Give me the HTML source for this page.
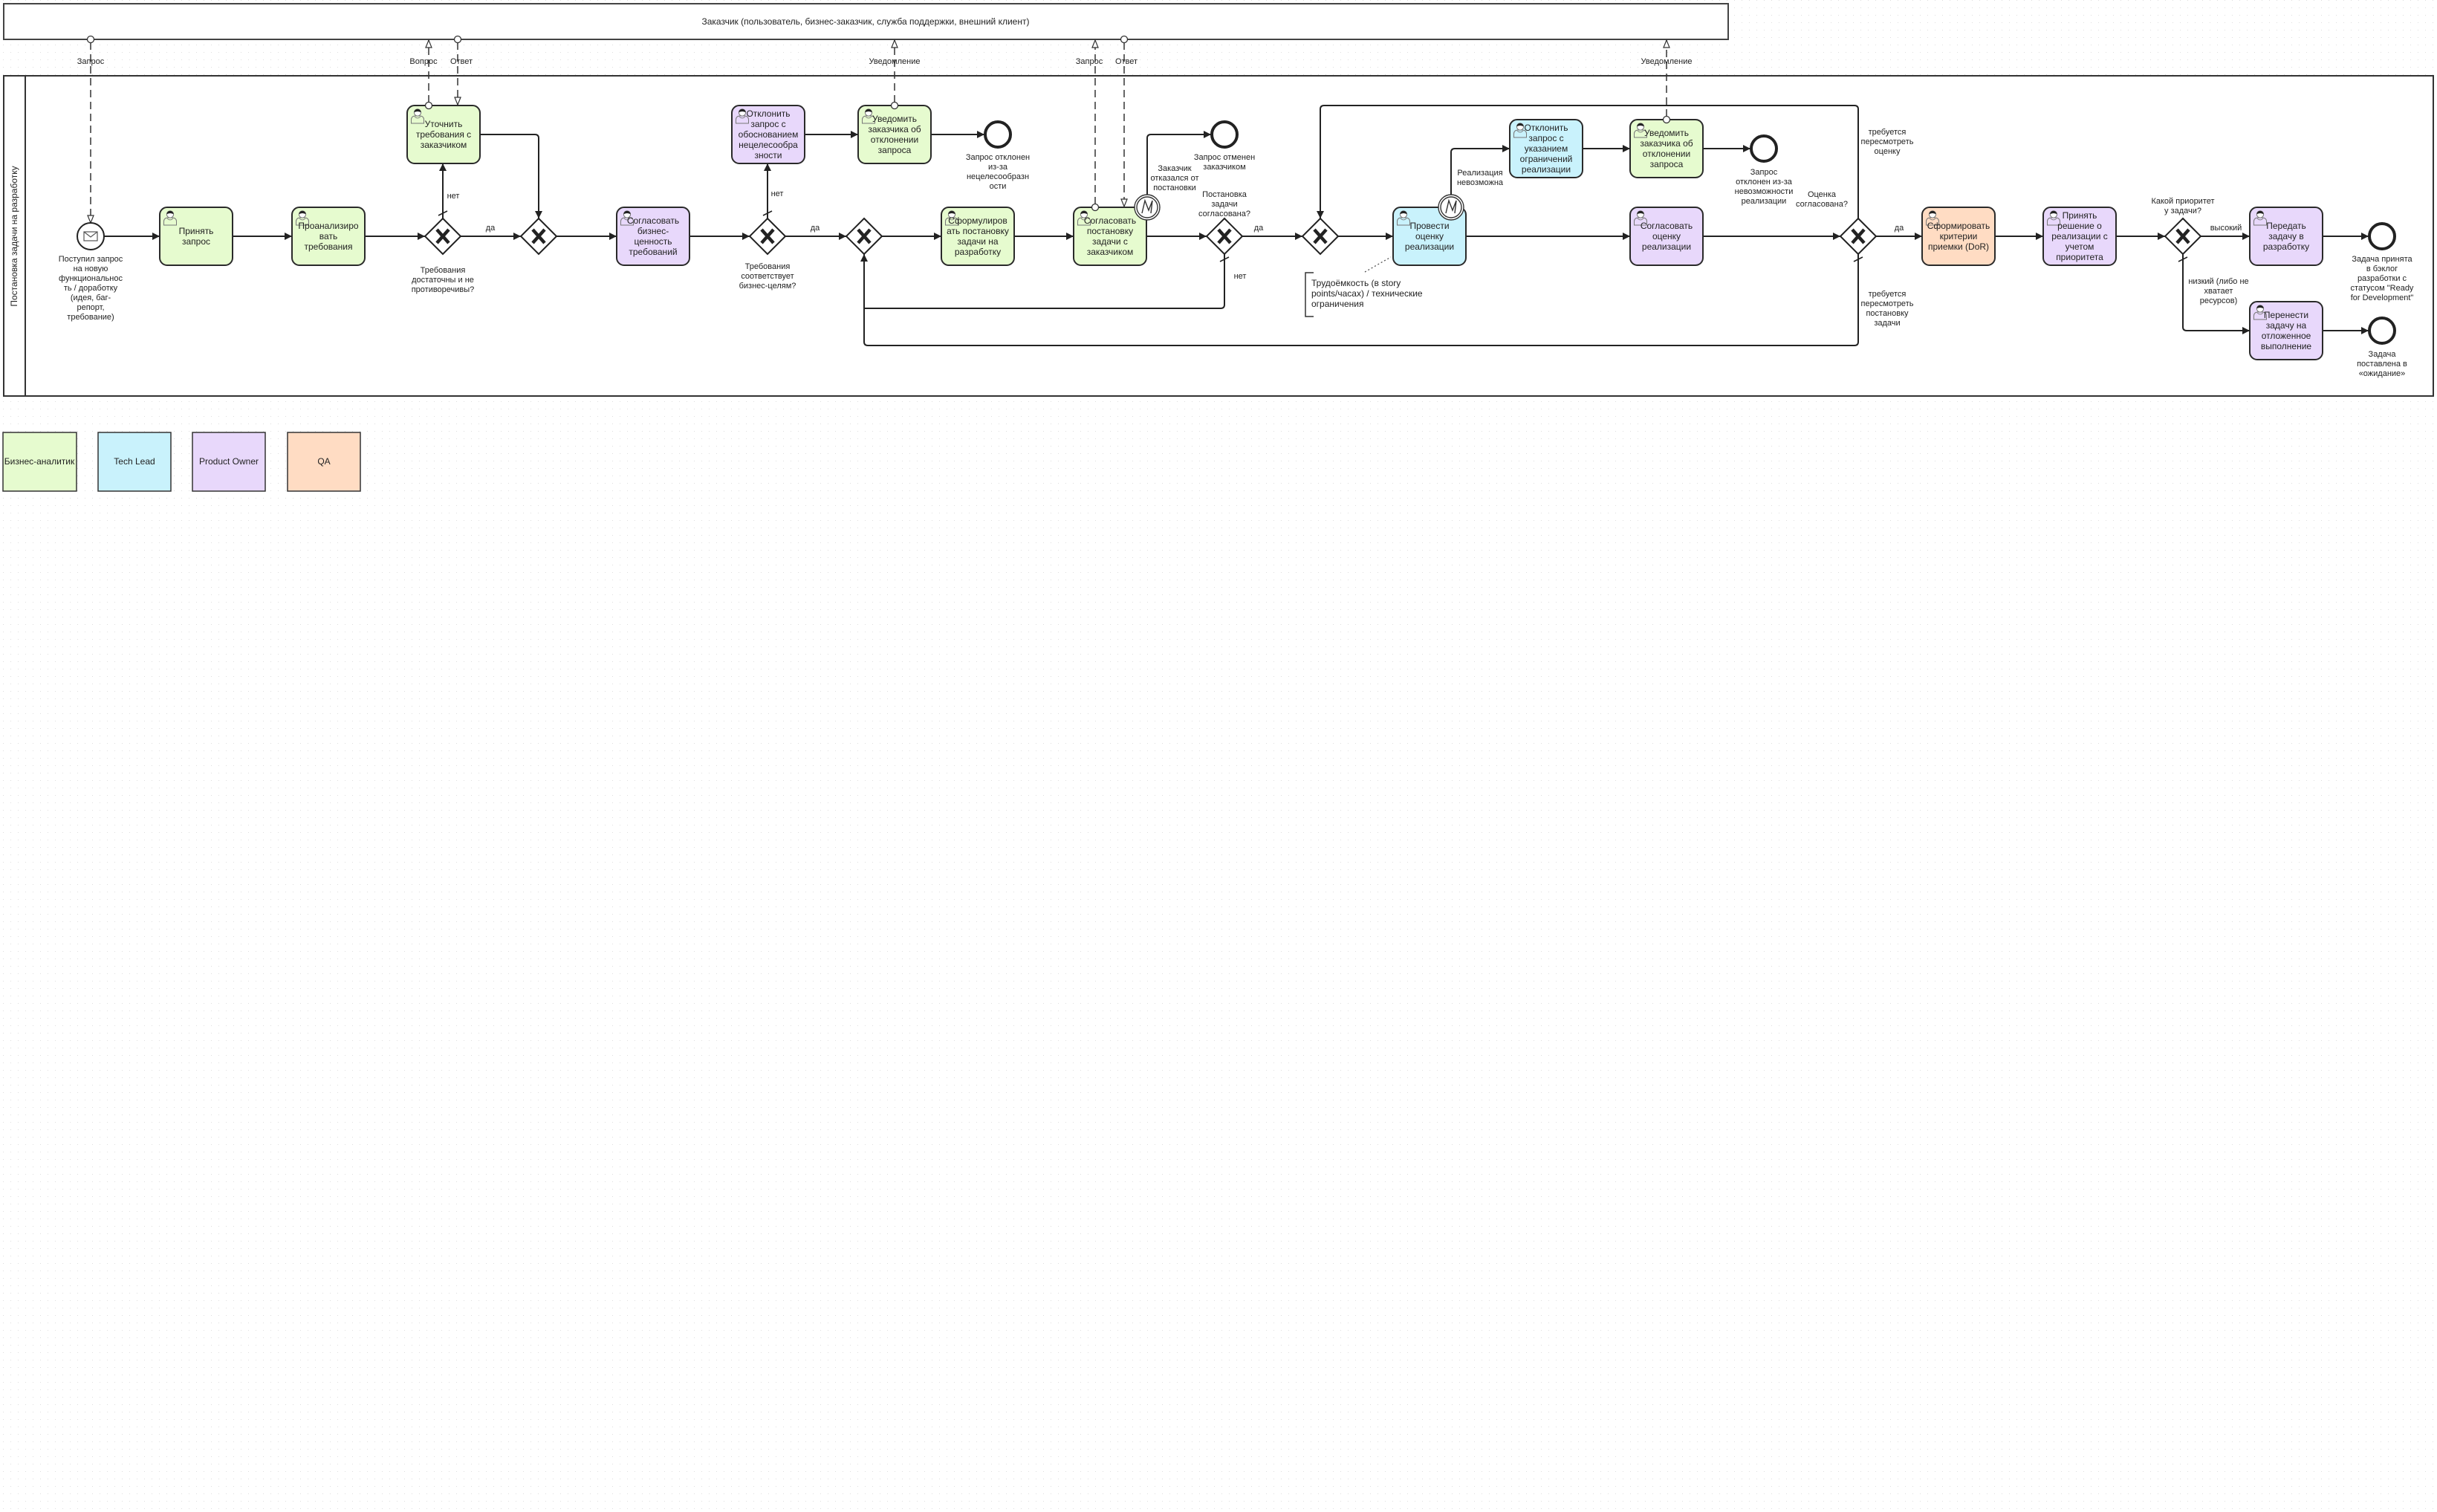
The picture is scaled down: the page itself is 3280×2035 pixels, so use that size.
<!DOCTYPE html>
<html>
<head>
<meta charset="utf-8">
<style>
html,body{margin:0;padding:0;background:#fff;}
svg{display:block;}
text{font-family:"Liberation Sans","DejaVu Sans",sans-serif;fill:#222;}
.t{font-size:12px;text-anchor:middle;}
.l{font-size:11px;text-anchor:middle;}
.f{fill:none;stroke:#222;stroke-width:2;}
.m{fill:none;stroke:#333;stroke-width:1.5;stroke-dasharray:10,6;}
.task{stroke:#2a2a2a;stroke-width:2;}
.g{fill:#fff;stroke:#222;stroke-width:2;}
.x{stroke:#222;stroke-width:4.5;stroke-linecap:butt;}
</style>
</head>
<body>
<svg xmlns="http://www.w3.org/2000/svg" width="3280" height="2035" viewBox="0 0 3280 2035">
<defs>
<pattern id="grid" x="4" y="0" width="10" height="10" patternUnits="userSpaceOnUse">
<rect x="0" y="0" width="1" height="1" fill="#dedede"/>
</pattern>
<marker id="a" markerWidth="12" markerHeight="12" refX="11" refY="6" orient="auto" markerUnits="userSpaceOnUse">
<path d="M1,1 L11,6 L1,11 Z" fill="#222"/>
</marker>
<marker id="o" markerWidth="12" markerHeight="12" refX="11" refY="6" orient="auto" markerUnits="userSpaceOnUse">
<path d="M1,2 L11,6 L1,10 Z" fill="#fff" stroke="#333" stroke-width="1.2"/>
</marker>
<symbol id="usr" viewBox="0 0 20 22" width="20" height="22">
<path d="M1.5,21 V16 Q1.5,11.5 6.5,11 H13.5 Q18.5,11.5 18.5,16 V21 Z" fill="none" stroke="#777" stroke-width="1"/>
<path d="M6,12 Q10,16 14,12" fill="none" stroke="#777" stroke-width="0.8"/>
<circle cx="10" cy="6.5" r="4.6" fill="#fff" stroke="#777" stroke-width="1"/>
<path d="M5.4,6.3 A4.6,4.6 0 0 1 14.6,6.3 Q10,3.8 5.4,6.3 Z" fill="#222"/>
</symbol>
</defs>

<rect x="0" y="0" width="3280" height="2035" fill="#fff"/>
<rect x="0" y="0" width="3280" height="2035" fill="url(#grid)"/>

<!-- top pool -->
<rect x="5" y="5" width="2321" height="48" fill="#fff" stroke="#444" stroke-width="2"/>
<text x="1165" y="33" class="t">Заказчик (пользователь, бизнес-заказчик, служба поддержки, внешний клиент)</text>

<!-- main pool -->
<rect x="5" y="102" width="3270" height="431" fill="#fff" stroke="#333" stroke-width="2"/>
<line x1="34" y1="102" x2="34" y2="533" stroke="#333" stroke-width="2"/>
<text class="t" transform="translate(23,318) rotate(-90)">Постановка задачи на разработку</text>

<!-- sequence flows -->
<g class="f">
<path d="M140,318 H215" marker-end="url(#a)"/>
<path d="M313,318 H393" marker-end="url(#a)"/>
<path d="M491,318 H572" marker-end="url(#a)"/>
<path d="M596,294 V220" marker-end="url(#a)"/>
<path d="M620,318 H701" marker-end="url(#a)"/>
<path d="M646,181 H720 Q725,181 725,186 V294" marker-end="url(#a)"/>
<path d="M749,318 H830" marker-end="url(#a)"/>
<path d="M928,318 H1009" marker-end="url(#a)"/>
<path d="M1033,294 V220" marker-end="url(#a)"/>
<path d="M1083,181 H1155" marker-end="url(#a)"/>
<path d="M1253,181 H1325" marker-end="url(#a)"/>
<path d="M1057,318 H1139" marker-end="url(#a)"/>
<path d="M1187,318 H1267" marker-end="url(#a)"/>
<path d="M1365,318 H1445" marker-end="url(#a)"/>
<path d="M1543,318 H1624" marker-end="url(#a)"/>
<path d="M1544,262 V186 Q1544,181 1549,181 H1630" marker-end="url(#a)"/>
<path d="M1672,318 H1753" marker-end="url(#a)"/>
<path d="M1648,342 V410 Q1648,415 1643,415 H1163"/>
<path d="M2501,342 V460 Q2501,465 2496,465 H1168 Q1163,465 1163,460 V342" marker-end="url(#a)"/>
<path d="M1801,318 H1875" marker-end="url(#a)"/>
<path d="M1973,318 H2194" marker-end="url(#a)"/>
<path d="M1953,262 V205 Q1953,200 1958,200 H2032" marker-end="url(#a)"/>
<path d="M2130,200 H2194" marker-end="url(#a)"/>
<path d="M2292,200 H2356" marker-end="url(#a)"/>
<path d="M2292,318 H2477" marker-end="url(#a)"/>
<path d="M2501,294 V147 Q2501,142 2496,142 H1782 Q1777,142 1777,147 V294" marker-end="url(#a)"/>
<path d="M2525,318 H2587" marker-end="url(#a)"/>
<path d="M2685,318 H2750" marker-end="url(#a)"/>
<path d="M2848,318 H2914" marker-end="url(#a)"/>
<path d="M2962,318 H3028" marker-end="url(#a)"/>
<path d="M2938,342 V440 Q2938,445 2943,445 H3028" marker-end="url(#a)"/>
<path d="M3126,318 H3188" marker-end="url(#a)"/>
<path d="M3126,445 H3188" marker-end="url(#a)"/>
</g>
<!-- default flow slashes -->
<g stroke="#222" stroke-width="1.6">
<line x1="590" y1="290" x2="602" y2="284"/>
<line x1="1027" y1="290" x2="1039" y2="284"/>
<line x1="1642" y1="352" x2="1654" y2="346"/>
<line x1="2495" y1="352" x2="2507" y2="346"/>
<line x1="2932" y1="352" x2="2944" y2="346"/>
</g>

<!-- message flows -->
<g>
<path class="m" d="M122,57 V300" marker-end="url(#o)"/>
<path class="m" d="M577,138 V54" marker-end="url(#o)"/>
<path class="m" d="M616,57 V141" marker-end="url(#o)"/>
<path class="m" d="M1204,138 V54" marker-end="url(#o)"/>
<path class="m" d="M1474,275 V54" marker-end="url(#o)"/>
<path class="m" d="M1513,57 V278" marker-end="url(#o)"/>
<path class="m" d="M2243,157 V54" marker-end="url(#o)"/>
</g>
<g class="l">
<text x="122" y="86">Запрос</text>
<text x="570" y="86">Вопрос</text>
<text x="621" y="86">Ответ</text>
<text x="1204" y="86">Уведомление</text>
<text x="1466" y="86">Запрос</text>
<text x="1516" y="86">Ответ</text>
<text x="2243" y="86">Уведомление</text>
</g>

<!-- tasks -->
<g class="task">
<rect x="215" y="279" width="98" height="78" rx="10" fill="#e6fbcf"/>
<rect x="393" y="279" width="98" height="78" rx="10" fill="#e6fbcf"/>
<rect x="548" y="142" width="98" height="78" rx="10" fill="#e6fbcf"/>
<rect x="830" y="279" width="98" height="78" rx="10" fill="#e8d8fb"/>
<rect x="985" y="142" width="98" height="78" rx="10" fill="#e8d8fb"/>
<rect x="1155" y="142" width="98" height="78" rx="10" fill="#e6fbcf"/>
<rect x="1267" y="279" width="98" height="78" rx="10" fill="#e6fbcf"/>
<rect x="1445" y="279" width="98" height="78" rx="10" fill="#e6fbcf"/>
<rect x="1875" y="279" width="98" height="78" rx="10" fill="#c9f2fc"/>
<rect x="2032" y="161" width="98" height="78" rx="10" fill="#c9f2fc"/>
<rect x="2194" y="161" width="98" height="78" rx="10" fill="#e6fbcf"/>
<rect x="2194" y="279" width="98" height="78" rx="10" fill="#e8d8fb"/>
<rect x="2587" y="279" width="98" height="78" rx="10" fill="#ffdcc3"/>
<rect x="2750" y="279" width="98" height="78" rx="10" fill="#e8d8fb"/>
<rect x="3028" y="279" width="98" height="78" rx="10" fill="#e8d8fb"/>
<rect x="3028" y="406" width="98" height="78" rx="10" fill="#e8d8fb"/>
</g>
<!-- user icons -->
<g>
<use href="#usr" x="219" y="282"/>
<use href="#usr" x="397" y="282"/>
<use href="#usr" x="552" y="145"/>
<use href="#usr" x="834" y="282"/>
<use href="#usr" x="989" y="145"/>
<use href="#usr" x="1159" y="145"/>
<use href="#usr" x="1271" y="282"/>
<use href="#usr" x="1449" y="282"/>
<use href="#usr" x="1879" y="282"/>
<use href="#usr" x="2036" y="164"/>
<use href="#usr" x="2198" y="164"/>
<use href="#usr" x="2198" y="282"/>
<use href="#usr" x="2591" y="282"/>
<use href="#usr" x="2754" y="282"/>
<use href="#usr" x="3032" y="282"/>
<use href="#usr" x="3032" y="409"/>
</g>
<!-- task text -->
<g class="t">
<text x="264" y="315">Принять</text><text x="264" y="329">запрос</text>
<text x="442" y="308">Проанализиро</text><text x="442" y="322">вать</text><text x="442" y="336">требования</text>
<text x="597" y="171">Уточнить</text><text x="597" y="185">требования с</text><text x="597" y="199">заказчиком</text>
<text x="879" y="301">Согласовать</text><text x="879" y="315">бизнес-</text><text x="879" y="329">ценность</text><text x="879" y="343">требований</text>
<text x="1034" y="157">Отклонить</text><text x="1034" y="171">запрос с</text><text x="1034" y="185">обоснованием</text><text x="1034" y="199">нецелесообра</text><text x="1034" y="213">зности</text>
<text x="1204" y="164">Уведомить</text><text x="1204" y="178">заказчика об</text><text x="1204" y="192">отклонении</text><text x="1204" y="206">запроса</text>
<text x="1316" y="301">Сформулиров</text><text x="1316" y="315">ать постановку</text><text x="1316" y="329">задачи на</text><text x="1316" y="343">разработку</text>
<text x="1494" y="301">Согласовать</text><text x="1494" y="315">постановку</text><text x="1494" y="329">задачи с</text><text x="1494" y="343">заказчиком</text>
<text x="1924" y="308">Провести</text><text x="1924" y="322">оценку</text><text x="1924" y="336">реализации</text>
<text x="2081" y="176">Отклонить</text><text x="2081" y="190">запрос с</text><text x="2081" y="204">указанием</text><text x="2081" y="218">ограничений</text><text x="2081" y="232">реализации</text>
<text x="2243" y="183">Уведомить</text><text x="2243" y="197">заказчика об</text><text x="2243" y="211">отклонении</text><text x="2243" y="225">запроса</text>
<text x="2243" y="308">Согласовать</text><text x="2243" y="322">оценку</text><text x="2243" y="336">реализации</text>
<text x="2636" y="308">Сформировать</text><text x="2636" y="322">критерии</text><text x="2636" y="336">приемки (DoR)</text>
<text x="2799" y="294">Принять</text><text x="2799" y="308">решение о</text><text x="2799" y="322">реализации с</text><text x="2799" y="336">учетом</text><text x="2799" y="350">приоритета</text>
<text x="3077" y="308">Передать</text><text x="3077" y="322">задачу в</text><text x="3077" y="336">разработку</text>
<text x="3077" y="428">Перенести</text><text x="3077" y="442">задачу на</text><text x="3077" y="456">отложенное</text><text x="3077" y="470">выполнение</text>
</g>

<!-- gateways -->
<g>
<path class="g" d="M596,294 L620,318 L596,342 L572,318 Z"/>
<path class="g" d="M725,294 L749,318 L725,342 L701,318 Z"/>
<path class="g" d="M1033,294 L1057,318 L1033,342 L1009,318 Z"/>
<path class="g" d="M1163,294 L1187,318 L1163,342 L1139,318 Z"/>
<path class="g" d="M1648,294 L1672,318 L1648,342 L1624,318 Z"/>
<path class="g" d="M1777,294 L1801,318 L1777,342 L1753,318 Z"/>
<path class="g" d="M2501,294 L2525,318 L2501,342 L2477,318 Z"/>
<path class="g" d="M2938,294 L2962,318 L2938,342 L2914,318 Z"/>
</g>
<g class="x">
<path d="M588,309 L604,327 M604,309 L588,327"/>
<path d="M717,309 L733,327 M733,309 L717,327"/>
<path d="M1025,309 L1041,327 M1041,309 L1025,327"/>
<path d="M1155,309 L1171,327 M1171,309 L1155,327"/>
<path d="M1640,309 L1656,327 M1656,309 L1640,327"/>
<path d="M1769,309 L1785,327 M1785,309 L1769,327"/>
<path d="M2493,309 L2509,327 M2509,309 L2493,327"/>
<path d="M2930,309 L2946,327 M2946,309 L2930,327"/>
</g>

<!-- start event -->
<circle cx="122" cy="318" r="18" fill="#fff" stroke="#222" stroke-width="2"/>
<rect x="113" y="312" width="18" height="12" fill="#fff" stroke="#555" stroke-width="1.2"/>
<path d="M113,312 L122,319 L131,312" fill="none" stroke="#555" stroke-width="1.2"/>

<!-- end events -->
<g fill="#fff" stroke="#222" stroke-width="4">
<circle cx="1343" cy="181" r="17"/>
<circle cx="1648" cy="181" r="17"/>
<circle cx="2374" cy="200" r="17"/>
<circle cx="3206" cy="318" r="17"/>
<circle cx="3206" cy="445" r="17"/>
</g>

<!-- boundary events -->
<g fill="#fff" stroke="#333" stroke-width="1.4">
<circle cx="1544" cy="279" r="17"/>
<circle cx="1544" cy="279" r="14"/>
<path d="M1537,287 L1541,270 L1546,283 L1551,270 L1549,287" fill="none"/>
<circle cx="1953" cy="279" r="17"/>
<circle cx="1953" cy="279" r="14"/>
<path d="M1946,287 L1950,270 L1955,283 L1960,270 L1958,287" fill="none"/>
</g>

<!-- message flow start circles -->
<g fill="#fff" stroke="#333" stroke-width="1.3">
<circle cx="122" cy="53" r="4.5"/>
<circle cx="577" cy="142" r="4.5"/>
<circle cx="616" cy="53" r="4.5"/>
<circle cx="1204" cy="142" r="4.5"/>
<circle cx="1474" cy="279" r="4.5"/>
<circle cx="1513" cy="53" r="4.5"/>
<circle cx="2243" cy="161" r="4.5"/>
</g>

<!-- labels -->
<g class="l">
<text x="122" y="352">Поступил запрос</text><text x="122" y="365">на новую</text><text x="122" y="378">функциональнос</text><text x="122" y="391">ть / доработку</text><text x="122" y="404">(идея, баг-</text><text x="122" y="417">репорт,</text><text x="122" y="430">требование)</text>
<text x="610" y="267">нет</text>
<text x="660" y="310">да</text>
<text x="596" y="367">Требования</text><text x="596" y="380">достаточны и не</text><text x="596" y="393">противоречивы?</text>
<text x="1046" y="264">нет</text>
<text x="1097" y="310">да</text>
<text x="1033" y="362">Требования</text><text x="1033" y="375">соответствует</text><text x="1033" y="388">бизнес-целям?</text>
<text x="1343" y="215">Запрос отклонен</text><text x="1343" y="228">из-за</text><text x="1343" y="241">нецелесообразн</text><text x="1343" y="254">ости</text>
<text x="1648" y="215">Запрос отменен</text><text x="1648" y="228">заказчиком</text>
<text x="1581" y="230">Заказчик</text><text x="1581" y="243">отказался от</text><text x="1581" y="256">постановки</text>
<text x="1648" y="265">Постановка</text><text x="1648" y="278">задачи</text><text x="1648" y="291">согласована?</text>
<text x="1694" y="310">да</text>
<text x="1669" y="375">нет</text>
<text x="1992" y="236">Реализация</text><text x="1992" y="249">невозможна</text>
<text x="2374" y="235">Запрос</text><text x="2374" y="248">отклонен из-за</text><text x="2374" y="261">невозможности</text><text x="2374" y="274">реализации</text>
<text x="2452" y="265">Оценка</text><text x="2452" y="278">согласована?</text>
<text x="2540" y="181">требуется</text><text x="2540" y="194">пересмотреть</text><text x="2540" y="207">оценку</text>
<text x="2540" y="399">требуется</text><text x="2540" y="412">пересмотреть</text><text x="2540" y="425">постановку</text><text x="2540" y="438">задачи</text>
<text x="2556" y="310">да</text>
<text x="2938" y="274">Какой приоритет</text><text x="2938" y="287">у задачи?</text>
<text x="2996" y="310">высокий</text>
<text x="2986" y="382">низкий (либо не</text><text x="2986" y="395">хватает</text><text x="2986" y="408">ресурсов)</text>
<text x="3206" y="352">Задача принята</text><text x="3206" y="365">в бэклог</text><text x="3206" y="378">разработки с</text><text x="3206" y="391">статусом "Ready</text><text x="3206" y="404">for Development"</text>
<text x="3206" y="480">Задача</text><text x="3206" y="493">поставлена в</text><text x="3206" y="506">«ожидание»</text>
</g>

<!-- annotation -->
<path d="M1768,367 H1757 V426 H1768" fill="none" stroke="#333" stroke-width="1.5"/>
<line x1="1837" y1="366" x2="1872" y2="346" stroke="#555" stroke-width="1.3" stroke-dasharray="2,3"/>
<g style="font-size:12px">
<text x="1765" y="385">Трудоёмкость (в story</text>
<text x="1765" y="399">points/часах) / технические</text>
<text x="1765" y="413">ограничения</text>
</g>

<!-- legend -->
<g stroke="#333" stroke-width="1.5">
<rect x="4" y="582" width="99" height="79" fill="#e6fbcf"/>
<rect x="132" y="582" width="98" height="79" fill="#c9f2fc"/>
<rect x="259" y="582" width="98" height="79" fill="#e8d8fb"/>
<rect x="387" y="582" width="98" height="79" fill="#ffdcc3"/>
</g>
<g class="t">
<text x="53" y="625">Бизнес-аналитик</text>
<text x="181" y="625">Tech Lead</text>
<text x="308" y="625">Product Owner</text>
<text x="436" y="625">QA</text>
</g>
</svg>
</body>
</html>
